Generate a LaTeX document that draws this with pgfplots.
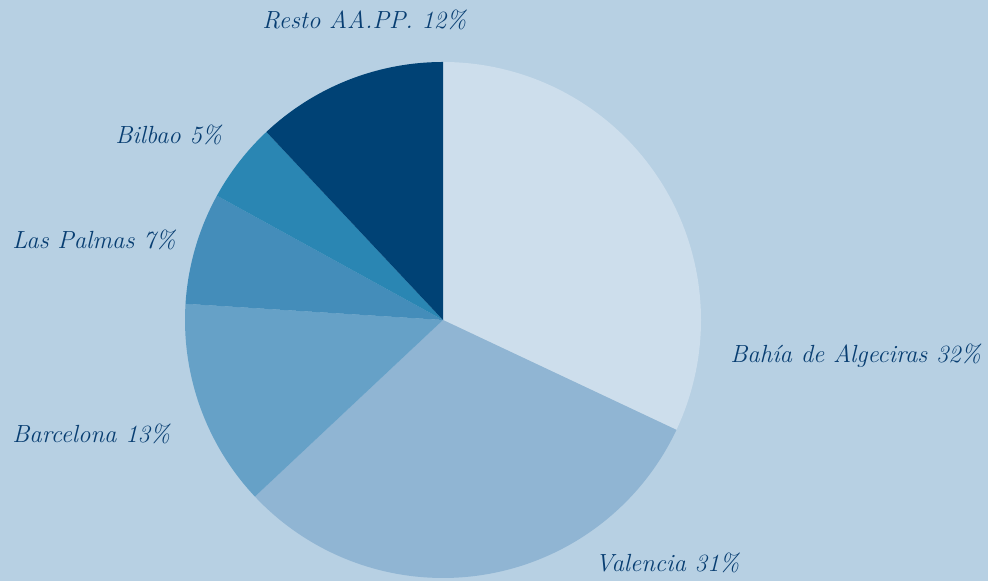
\documentclass[border=0pt]{standalone}
\usepackage{pgfplots}
\pgfplotsset{compat=1.18}
\definecolor{bg}{RGB}{183,208,227}
\definecolor{cA}{RGB}{205,222,236}
\definecolor{cV}{RGB}{144,181,211}
\definecolor{cB}{RGB}{102,161,199}
\definecolor{cL}{RGB}{68,141,186}
\definecolor{cBi}{RGB}{42,134,179}
\definecolor{cR}{RGB}{0,66,117}
\definecolor{txt}{RGB}{8,62,114}
% slice: {cumulative percent before}{percent}{colour}
\newcommand{\slice}[3]{%
  \addplot[fill=#3, draw=none, domain={90-3.6*(#1+#2)}:{90-3.6*(#1)}, samples=120, variable=\t]
    ({cos(\t)},{sin(\t)}) -- (axis cs:0,0) -- cycle;}
\begin{document}
\begin{tikzpicture}[x=1pt,y=1pt]
\fill[bg] (0,0) rectangle (494,290.5);
\useasboundingbox (0,0) rectangle (494,290.5);
\begin{axis}[
  at={(221.5pt,130.5pt)}, anchor=center,
  scale only axis, width=258pt, height=258pt,
  xmin=-1, xmax=1, ymin=-1, ymax=1,
  hide axis, clip=false]
\slice{0}{32}{cA}
\slice{32}{31}{cV}
\slice{63}{13}{cB}
\slice{76}{7}{cL}
\slice{83}{5}{cBi}
\slice{88}{12}{cR}
\end{axis}
\begin{scope}[every node/.style={anchor=west, inner sep=0pt, text=txt, font=\fontsize{12.4}{14}\selectfont\itshape}]
\node at (131,280.5) {Resto AA.PP. 12\%};
\node at (57.5,223) {Bilbao 5\%};
\node at (6,170.5) {Las Palmas 7\%};
\node at (6,73.5) {Barcelona 13\%};
\node at (365,112.5) {Bahía de Algeciras 32\%};
\node at (297.5,9) {Valencia 31\%};
\end{scope}
\end{tikzpicture}
\end{document}
